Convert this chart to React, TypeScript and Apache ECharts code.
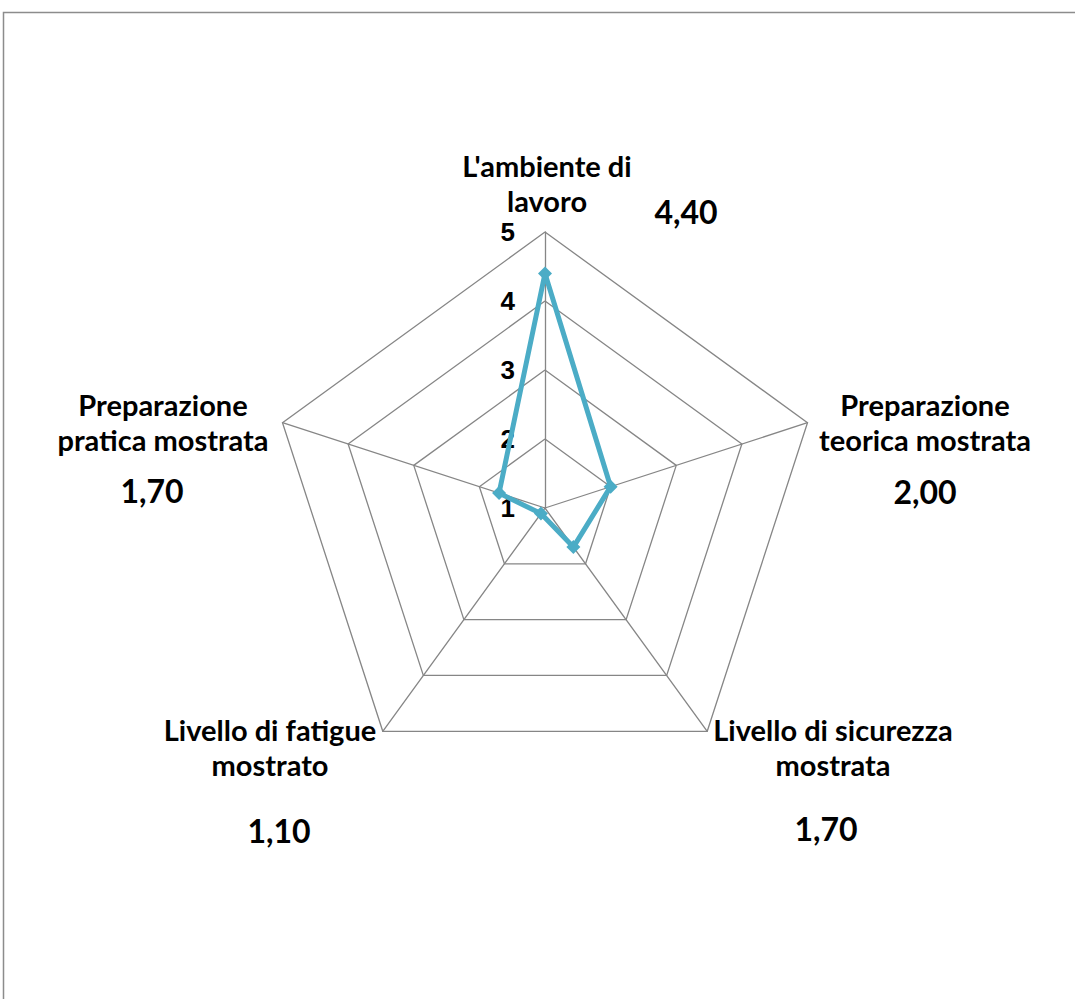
import React, { useEffect, useRef } from "react";
import * as echarts from "echarts";

const categories: string[] = [
  "L'ambiente di\nlavoro",
  "Preparazione\nteorica mostrata",
  "Livello di sicurezza\nmostrata",
  "Livello di fatigue\nmostrato",
  "Preparazione\npratica mostrata",
];
const values: number[] = [4.4, 2.0, 1.7, 1.1, 1.7];
const tickLabels: string[] = ["1", "2", "3", "4", "5"];
const axisMin = 1;
const axisMax = 5;

// label placement (layout only)
const namePos: [number, number][] = [
  [547, 183],
  [925, 422],
  [833, 747],
  [270, 747],
  [163, 422],
];
const valuePos: [number, number][] = [
  [686, 211],
  [925, 491],
  [826, 828],
  [279, 830],
  [152, 490],
];

const fmt = (v: number) => v.toFixed(2).replace(".", ",");

export default function App() {
  const ref = useRef<HTMLDivElement>(null);
  useEffect(() => {
    if (!ref.current) return;
    const chart = echarts.init(ref.current, null, { renderer: "svg" });
    // ECharts places radar indicators counter-clockwise; Excel clockwise.
    const order = [0, 4, 3, 2, 1];
    const indicator = order.map((i, k) => {
      const base: any = { name: categories[i], min: axisMin, max: axisMax };
      if (k === 0) {
        base.axisLabel = {
          show: true,
          showMinLabel: true,
          showMaxLabel: true,
          color: "#000",
          fontSize: 26,
          fontWeight: "bold",
          fontFamily: "Liberation Sans",
          margin: 30,
          formatter: (v: number) => tickLabels[Math.round(v) - axisMin] ?? "",
        };
      }
      return base;
    });
    const textStyleName = {
      fill: "#000",
      fontSize: 29,
      fontWeight: "bold",
      fontFamily: "Lato",
      align: "center",
      verticalAlign: "middle",
      lineHeight: 35,
    };
    const graphics: any[] = [
      {
        type: "rect",
        shape: { x: 3.5, y: 12.5, width: 1200, height: 1200 },
        style: { fill: "none", stroke: "#8c8c8c", lineWidth: 1.5 },
        silent: true,
        z: -10,
      },
    ];
    categories.forEach((c, i) => {
      graphics.push({
        type: "text",
        x: namePos[i][0],
        y: namePos[i][1],
        style: { text: c, ...textStyleName },
      });
      graphics.push({
        type: "text",
        x: valuePos[i][0],
        y: valuePos[i][1],
        style: {
          text: fmt(values[i]),
          fill: "#000",
          fontSize: 32,
          fontWeight: "bold",
          fontFamily: "Lato",
          align: "center",
          verticalAlign: "middle",
        },
      });
    });
    chart.setOption({
      animation: false,
      backgroundColor: "#fff",
      radar: {
        center: [545, 508],
        radius: 276,
        startAngle: 90,
        splitNumber: 4,
        shape: "polygon",
        indicator,
        axisName: { show: false },
        axisLine: { lineStyle: { color: "#868686", width: 1.3 } },
        splitLine: { lineStyle: { color: "#868686", width: 1.3 } },
        splitArea: { show: false },
        axisTick: { show: false },
        axisLabel: { show: false },
      },
      graphic: graphics,
      series: [
        {
          type: "radar",
          symbol: "diamond",
          symbolSize: 14,
          lineStyle: { color: "#4BACC6", width: 5 },
          itemStyle: { color: "#4BACC6" },
          data: [{ value: order.map((i) => values[i]), name: "Valutazione" }],
        },
      ],
    });
    return () => chart.dispose();
  }, []);
  return (
    <div
      ref={ref}
      style={{ position: "absolute", left: 0, top: 0, width: 1075, height: 999 }}
    />
  );
}
